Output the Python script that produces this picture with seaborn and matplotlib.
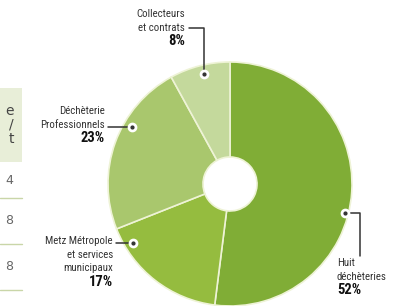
import matplotlib
matplotlib.use('Agg')
import matplotlib.pyplot as plt
import seaborn as sns

sns.set_theme(style="white")
plt.rcParams['font.family'] = ['Roboto Condensed', 'DejaVu Sans']

# donut data (clockwise from the top)
labels = ["Huit\ndéchèteries", "Metz Métropole\net services\nmunicipaux",
          "Déchèterie\nProfessionnels", "Collecteurs\net contrats"]
values = [52, 17, 23, 8]
colors = ["#80ad36", "#95bc3f", "#a9c76d", "#c4d99c"]

# cut-off table on the left edge
table_head = ["e", "/", "t"]
table_vals = ["4", "8", "8"]

W, H = 402, 306
def Y(y):
    return H - y

fig = plt.figure(figsize=(W / 100, H / 100), dpi=100)
ax = fig.add_axes([0, 0, 1, 1])

cx, cy, R, r = 230, 184, 122, 27
pal = sns.color_palette(colors)
ax.pie(values, colors=pal, startangle=90, counterclock=False,
       radius=R, center=(cx, Y(cy)),
       wedgeprops=dict(width=R - r, edgecolor="#eef3d6", linewidth=1.2))
ax.set_xlim(0, W)
ax.set_ylim(0, H)
ax.set_aspect('equal')
ax.axis('off')

ink = "#333333"
fs = 7.8

def marker(x, y):
    ax.plot([x], [Y(y)], 'o', ms=6, mfc='white', mec='white', zorder=5)
    ax.plot([x], [Y(y)], 'o', ms=2, mfc=ink, mec=ink, zorder=6)

def label(x, y, text, pct, ha):
    n = text.count("\n") + 1
    ax.text(x, Y(y), text, ha=ha, va='top', fontsize=fs, color=ink,
            linespacing=1.45)
    ax.text(x, Y(y + n * 13.2 - 1), pct, ha=ha, va='top', fontsize=10.5,
            color="#111111", fontweight='bold')

# Collecteurs et contrats
label(185, 9, labels[3], f"{values[3]}%", 'right')
ax.plot([189, 204, 204], [Y(28), Y(28), Y(74)], color=ink, lw=1.1)
marker(204, 74)

# Déchèterie Professionnels
label(105, 106, labels[2], f"{values[2]}%", 'right')
ax.plot([108, 130], [Y(127), Y(127)], color=ink, lw=1.1)
marker(132, 127)

# Metz Métropole
label(113, 236, labels[1], f"{values[1]}%", 'right')
ax.plot([116, 131], [Y(243), Y(243)], color=ink, lw=1.1)
marker(133, 243)

# Huit déchèteries
label(337, 258, labels[0], f"{values[0]}%", 'left')
ax.plot([345, 360, 360], [Y(213), Y(213), Y(256)], color=ink, lw=1.1)
marker(345, 213)

# table fragment
ax.add_patch(plt.Rectangle((0, Y(162)), 22, 74, color="#e8eed8", lw=0, zorder=0))
for i, t in enumerate(table_head):
    ax.text(14, Y(111 + i * 14), t, ha='right', va='center', fontsize=10,
            color="#444444", family='DejaVu Sans')
for i, (t, yy) in enumerate(zip(table_vals, [180, 221, 267])):
    ax.text(13, Y(yy), t, ha='right', va='center', fontsize=9,
            color="#666666", family='DejaVu Sans')
for yy in [198, 244, 290]:
    ax.plot([0, 22], [Y(yy), Y(yy)], color="#c9d6a8", lw=1)

fig.savefig("out.png", dpi=100)
